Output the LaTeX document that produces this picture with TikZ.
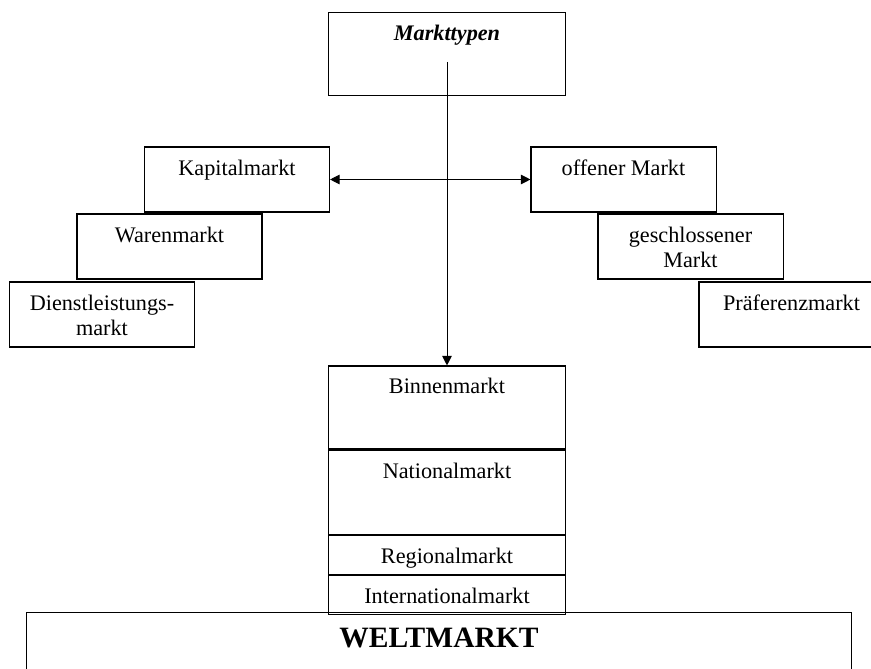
\documentclass[tikz,border=0pt]{standalone}
\usepackage{fontspec}
\setmainfont{Liberation Serif}
\usepackage{tikz}
\usetikzlibrary{arrows.meta,positioning}
\newcommand{\bodyfont}{\fontsize{15.8pt}{17.3pt}\selectfont}

\begin{document}
\begin{tikzpicture}[
  x=0.025cm, y=-0.025cm,
  font=\bodyfont,
  >={Triangle[length=2.4mm, width=2.4mm]},
  link/.style={<->, line width=0.7pt},
  down/.style={->, line width=0.7pt},
  mkt/.style={draw, line width=0.75pt, inner xsep=2pt, inner ysep=0pt,
              align=center, minimum width=4.625cm,
              text height=0.725cm, text depth=0.9cm},
  %% two lines: the box baseline is the last line
  mkttwo/.style={mkt, text height=1.325cm, text depth=0.3cm},
  tier/.style={draw, line width=0.75pt, inner xsep=2pt, inner ysep=0pt,
               align=center, minimum width=5.9cm, text height=0.7cm},
  world/.style={draw, line width=0.75pt, inner ysep=0pt, minimum width=20.6cm,
                text height=0.875cm, text depth=1.5cm,
                font=\fontsize{21pt}{24pt}\selectfont\bfseries}
]
\useasboundingbox (0,0) rectangle (871,669);

%% ---- head -----------------------------------------------------------------
\node[tier, text depth=1.375cm, font=\bodyfont\bfseries\itshape] (typen) at (447,54)
  {Markttypen};

%% ---- left stair -----------------------------------------------------------
\node[mkt]    (kapital) at (237,179.5) {Kapitalmarkt};
\node[mkt]    (waren)   at (169.5,246.5) {Warenmarkt};
\node[mkttwo] (dienst)  at (102,314.5) {Dienstleistungs-\\markt};

%% ---- right stair ----------------------------------------------------------
\node[mkt]    (offen)   at (623.5,179.5) {offener Markt};
\node[mkttwo] (geschl)  at (690.5,246.5) {geschlossener\\Markt};
\node[mkt]    (praef)   at (791.5,314.5) {Präferenzmarkt};

%% ---- stack ----------------------------------------------------------------
\node[tier, text depth=1.375cm] (binnen) at (447,407.5) {Binnenmarkt};
\node[tier, text depth=1.4cm, below=0pt of binnen] (national) {Nationalmarkt};
\node[tier, text depth=0.275cm, below=0pt of national] (regional) {Regionalmarkt};
\node[tier, text depth=0.275cm, below=0pt of regional] (intl) {Internationalmarkt};

\node[world, anchor=north] (welt) at (439,612) {WELTMARKT};

%% ---- connectors -----------------------------------------------------------
\draw[down] ([yshift=-0.2cm]typen.center) -- (binnen.north);
\draw[link] (kapital.east) -- (offen.west);

\end{tikzpicture}
\end{document}
